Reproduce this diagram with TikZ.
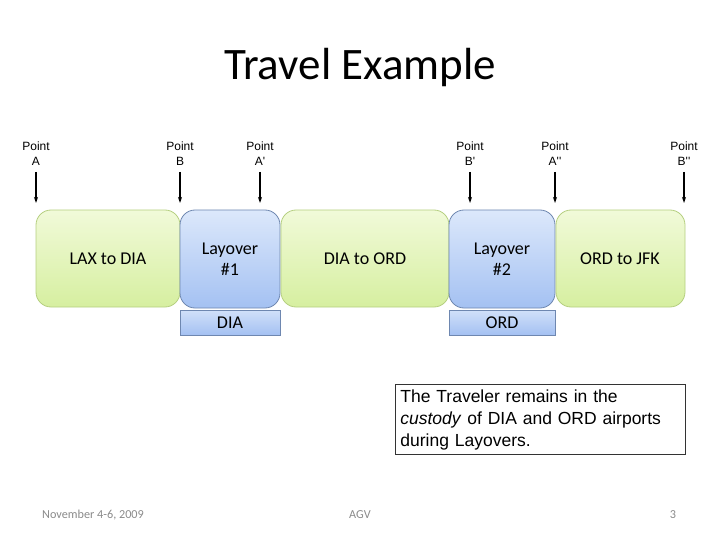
\documentclass[tikz,border=0pt]{standalone}
\usepackage{fontspec}
\setmainfont{Carlito}
\newfontfamily\arialf{Liberation Sans}
\usetikzlibrary{arrows.meta,shadings}
\definecolor{gtop}{HTML}{F1FAD9}
\definecolor{gbot}{HTML}{D6EFA0}
\definecolor{gline}{HTML}{B5CF80}
\definecolor{btop}{HTML}{DCE8FB}
\definecolor{bbot}{HTML}{A4C1F2}
\definecolor{bline}{HTML}{6E87B0}
\definecolor{foot}{HTML}{8A8A8A}
\tikzset{
  leg/.style={draw=gline, rounded corners=15pt, top color=gtop, bottom color=gbot, line width=0.8pt},
  lay/.style={draw=bline, rounded corners=15pt, top color=btop, bottom color=bbot, line width=0.8pt},
  apt/.style={draw=bline, top color=btop!80!bbot, bottom color=bbot, line width=0.8pt},
  lbl/.style={font=\fontsize{18}{21}\selectfont, align=center},
  ptl/.style={font=\arialf\fontsize{12}{15}\selectfont, align=center, inner sep=0pt},
  parr/.style={-{Stealth[length=6pt,width=4pt]}, line width=1.8pt, black},
  foottext/.style={font=\fontsize{12.2}{14}\selectfont, text=foot}
}
\begin{document}
\begin{tikzpicture}[x=1pt,y=-1pt]
\useasboundingbox (0,0) rectangle (720,540);
\node[font=\fontsize{45}{54}\selectfont] (title) at (360,68) {Travel Example};
% legs
\path[leg] (36,210) rectangle (180,307);
\node[lbl] (leg1) at (108,259) {LAX to DIA};
\path[lay] (180,210) rectangle (280,308);
\node[lbl] (lay1) at (230,259) {Layover\\\#1};
\path[leg] (281,210) rectangle (449,307);
\node[lbl] (leg2) at (365,259) {DIA to ORD};
\path[lay] (449,210) rectangle (555,308);
\node[lbl] (lay2) at (502,259) {Layover\\\#2};
\path[leg] (556,210) rectangle (685,307);
\node[lbl] (leg3) at (620,259) {ORD to JFK};
% airports
\path[apt] (180,310) rectangle (280,335);
\node[lbl] (dia) at (230,323) {DIA};
\path[apt] (449,310) rectangle (555,335);
\node[lbl] (ord) at (502,323) {ORD};
% points
\foreach \n/\x/\t in {pa/36/A, pb/180/B, pa1/260/A', pb1/470/B', pa2/555/A'', pb2/684/B''}{
  \node[ptl] (\n) at (\x,154) {Point\\\t};
  \coordinate (\n s) at (\x,172);
  \coordinate (\n e) at (\x,203);
  \draw[parr] (\n s) -- (\n e);
}
% note
\node[draw=black!80, line width=0.8pt, font=\arialf\fontsize{17.5}{22}\selectfont, align=left, text width=280pt, inner sep=5pt, anchor=north west] (note) at (395,384)
  {The Traveler remains in the\\\textit{custody} of DIA and ORD airports\\during Layovers.};
% footer
\node[foottext] (date) at (93,515) {November 4-6, 2009};
\node[foottext] (agv) at (360,515) {AGV};
\node[foottext] (pg) at (673,515) {3};
\end{tikzpicture}
\end{document}
